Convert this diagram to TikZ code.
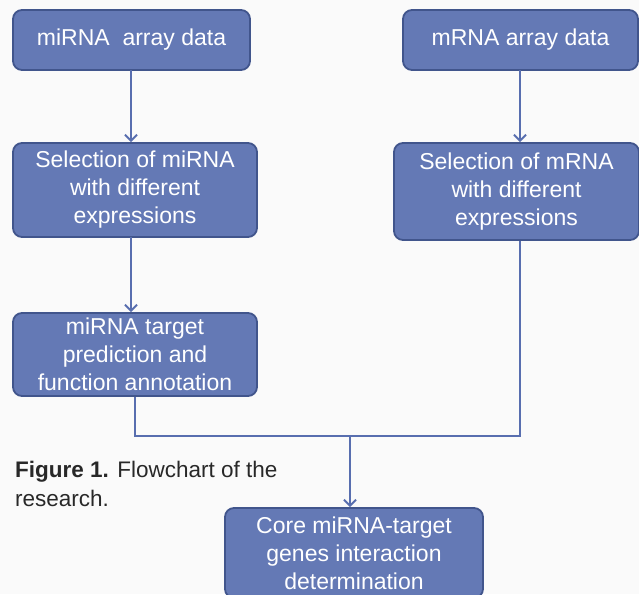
\documentclass[tikz,border=0pt]{standalone}
\usepackage{fontspec}
\setmainfont{Liberation Sans}
\usetikzlibrary{arrows.meta}
\definecolor{boxfill}{RGB}{100,121,181}
\definecolor{boxline}{RGB}{65,85,140}
\definecolor{connc}{RGB}{88,110,175}
\definecolor{captxt}{RGB}{40,40,40}
\definecolor{bg}{RGB}{250,250,250}
\begin{document}
\begin{tikzpicture}[x=1pt,y=-1pt,
  flowbox/.style={draw=boxline, line width=1.8pt, fill=boxfill, rounded corners=9pt,
    text=white, align=center, font=\fontsize{23}{28}\selectfont, inner sep=0pt},
  conn/.style={draw=connc, line width=2pt},
  arr/.style={conn, -{Straight Barb[length=6pt,width=12pt,line width=2pt]}},
  captext/.style={anchor=base west, text=captxt, inner sep=0pt, font=\fontsize{22.5}{29}\selectfont}]
\fill[bg] (0,0) rectangle (639,594);
\useasboundingbox (0,0) rectangle (639,594);

\node[flowbox, minimum width=237pt, minimum height=60pt] (a) at (131.5,40) {miRNA\ \ array data};
\node[flowbox, minimum width=235pt, minimum height=60pt] (b) at (520.5,40) {mRNA array data};
\node[flowbox, minimum width=244pt, minimum height=94pt] (c) at (135,190) {Selection of miRNA\\with different\\expressions};
\node[flowbox, minimum width=245pt, minimum height=97pt] (d) at (516.5,191.5) {Selection of mRNA\\with different\\expressions};
\node[flowbox, minimum width=244pt, minimum height=83pt] (e) at (135,354.5) {miRNA target\\prediction and\\function annotation};
\node[flowbox, minimum width=258pt, minimum height=90pt] (f) at (354,553) {Core miRNA-target\\genes interaction\\determination};

\coordinate (ab) at (131,70);
\coordinate (bb) at (520,70);
\coordinate (cb) at (131,237);
\draw[arr] (ab) -- (ab |- c.north);
\draw[arr] (bb) -- (bb |- d.north);
\draw[arr] (cb) -- (cb |- e.north);

\coordinate (el) at (135,436);
\coordinate (dr) at (520,436);
\coordinate (j) at (350,436);
\draw[conn] (e.south -| el) -- (el) -- (dr) -- (d.south -| dr);
\draw[arr] (j) -- (j |- f.north);

\node[captext] (cap1) at (15,477) {\textbf{Figure 1.} Flowchart of the};
\node[captext] (cap2) at (15,506) {research.};
\end{tikzpicture}
\end{document}
